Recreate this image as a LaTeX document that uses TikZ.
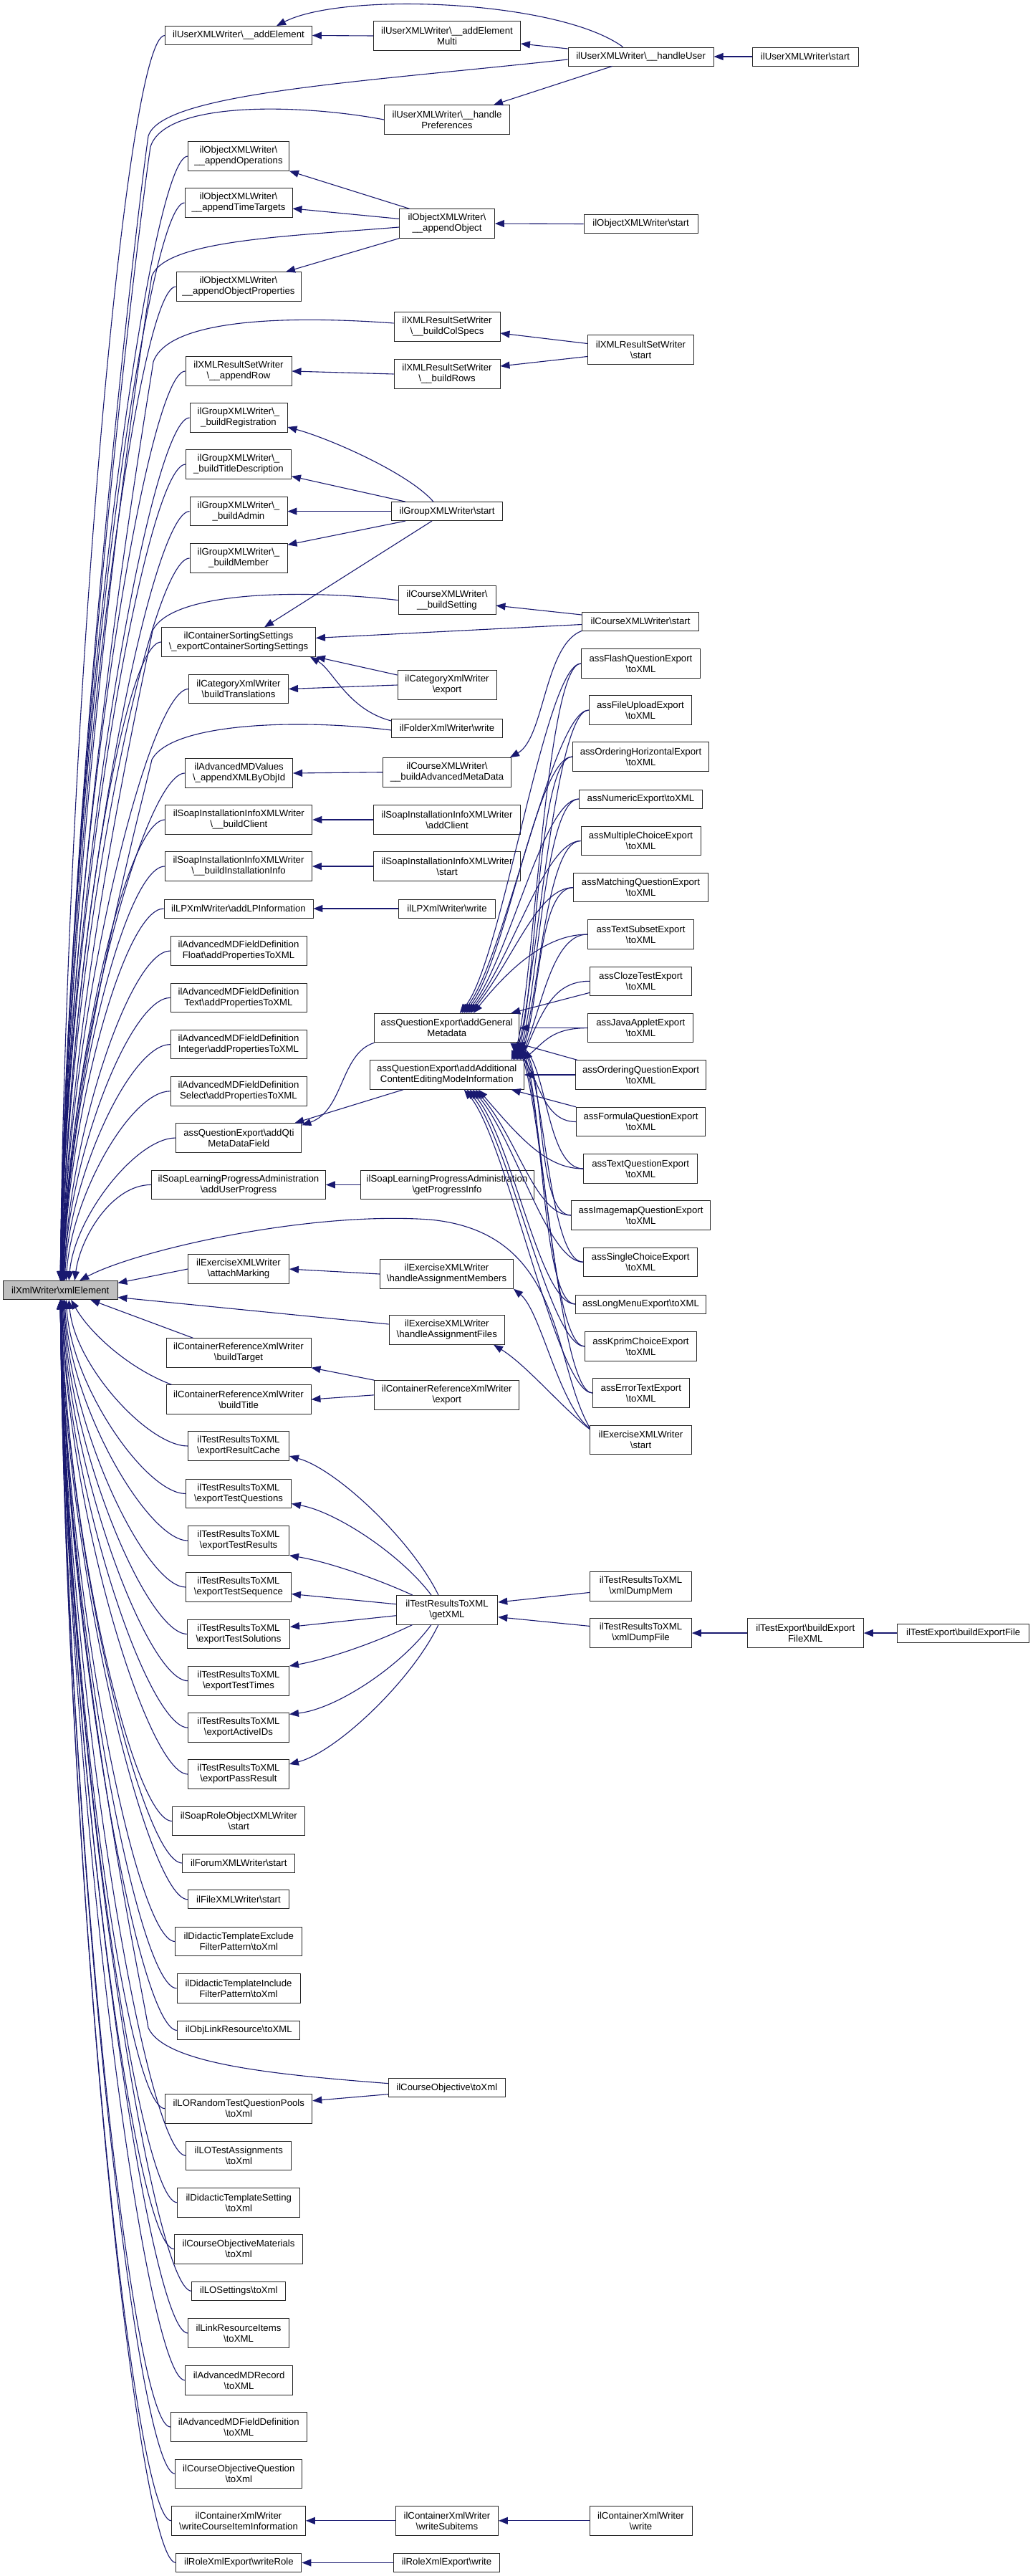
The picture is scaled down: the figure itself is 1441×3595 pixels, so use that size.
\documentclass[tikz,border=0pt]{standalone}
\usepackage{fontspec}
\setmainfont{Liberation Sans}
\usetikzlibrary{arrows.meta,calc}
\definecolor{navy}{HTML}{191970}
\definecolor{rootgrey}{HTML}{BFBFBF}
\newcommand\bs{\textbackslash}
\newcommand\N[5]{\node[#1,minimum width=#4pt] (#2) at (#3) {#5};}
\newcommand\upe[2]{\draw[ce] let \p1=(#1.west), \p2=([xshift=#2pt]xml.north west) in (\p1) .. controls (\x1-55pt,\y1) and (\x2+8pt,{0.45*(\y1)+0.55*(\y2)}) .. (\p2);}
\newcommand\dne[2]{\draw[ce] let \p1=(#1.west), \p2=([xshift=#2pt]xml.south west) in (\p1) .. controls (\x1-55pt,\y1) and (\x2+8pt,{0.45*(\y1)+0.55*(\y2)}) .. (\p2);}
\newcommand\qe[4]{\draw[ce] let \p1=(#1.west), \p2=(#2) in (\p1) .. controls (\x1-50pt,\y1) and (\x2+#3pt,{\y2-(#4pt)}) .. (\p2);}
\begin{document}
\begin{tikzpicture}[x=1pt,y=-1pt,
 nd/.style={draw=black!85,fill=white,line width=0.9pt,font=\fontsize{13.2}{15}\selectfont,align=center,inner sep=0pt,minimum height=26pt},
 nd2/.style={nd,minimum height=40.5pt},
 ce/.style={draw=navy,line width=1.1pt,-{Triangle[length=13pt,width=10pt,fill=navy]}}]
\path[use as bounding box,fill=white] (0,0) rectangle (1441,3595);
% root
\N{nd,fill=rootgrey}{xml}{84.3,1800.5}{159.3}{ilXmlWriter\bs xmlElement}
% column 2
\N{nd}{ae}{333,49.5}{205}{ilUserXMLWriter\bs\_\_addElement}
\N{nd2}{aop}{333,218}{141}{ilObjectXMLWriter\bs\\\_\_appendOperations}
\N{nd2}{att}{333,283}{150}{ilObjectXMLWriter\bs\\\_\_appendTimeTargets}
\N{nd2}{aprop}{333,400}{174}{ilObjectXMLWriter\bs\\\_\_appendObjectProperties}
\N{nd2}{arow}{333,518}{148}{ilXMLResultSetWriter\\\bs\_\_appendRow}
\N{nd2}{breg}{333,583}{136}{ilGroupXMLWriter\bs\_\\\_buildRegistration}
\N{nd2}{btd}{333,648}{147}{ilGroupXMLWriter\bs\_\\\_buildTitleDescription}
\N{nd2}{badm}{333,713.6}{136}{ilGroupXMLWriter\bs\_\\\_buildAdmin}
\N{nd2}{bmem}{333,779}{136}{ilGroupXMLWriter\bs\_\\\_buildMember}
\N{nd2}{cs}{333,896}{215}{ilContainerSortingSettings\\\bs\_exportContainerSortingSettings}
\N{nd2}{btr}{333,961.5}{139}{ilCategoryXmlWriter\\\bs buildTranslations}
\N{nd2}{axo}{333.6,1079}{150}{ilAdvancedMDValues\\\bs\_appendXMLByObjId}
\N{nd2}{bcl}{333.3,1144}{205}{ilSoapInstallationInfoXMLWriter\\\bs\_\_buildClient}
\N{nd2}{bii}{333,1209}{205}{ilSoapInstallationInfoXMLWriter\\\bs\_\_buildInstallationInfo}
\N{nd}{lpa}{333,1268}{208}{ilLPXmlWriter\bs addLPInformation}
\N{nd2}{fl}{333,1327}{190}{ilAdvancedMDFieldDefinition\\Float\bs addPropertiesToXML}
\N{nd2}{tx}{333,1392.4}{190}{ilAdvancedMDFieldDefinition\\Text\bs addPropertiesToXML}
\N{nd2}{mdi}{333,1457.6}{190}{ilAdvancedMDFieldDefinition\\Integer\bs addPropertiesToXML}
\N{nd2}{sel}{333,1522.8}{190}{ilAdvancedMDFieldDefinition\\Select\bs addPropertiesToXML}
\N{nd2}{qti}{333.4,1588}{175}{assQuestionExport\bs addQti\\MetaDataField}
\N{nd2}{aup}{333,1653.4}{243}{ilSoapLearningProgressAdministration\\\bs addUserProgress}
\N{nd2}{am}{333,1771}{141}{ilExerciseXMLWriter\\\bs attachMarking}
\N{nd2}{btg}{333,1888}{202}{ilContainerReferenceXmlWriter\\\bs buildTarget}
\N{nd2}{btl}{333,1953}{202}{ilContainerReferenceXmlWriter\\\bs buildTitle}
\N{nd2}{erc}{333,2018}{141}{ilTestResultsToXML\\\bs exportResultCache}
\N{nd2}{etq}{333,2084.5}{147}{ilTestResultsToXML\\\bs exportTestQuestions}
\N{nd2}{etr}{333,2150}{141}{ilTestResultsToXML\\\bs exportTestResults}
\N{nd2}{ets}{333,2215}{147}{ilTestResultsToXML\\\bs exportTestSequence}
\N{nd2}{etso}{333,2280.4}{143}{ilTestResultsToXML\\\bs exportTestSolutions}
\N{nd2}{ett}{333,2345.7}{141}{ilTestResultsToXML\\\bs exportTestTimes}
\N{nd2}{eai}{333,2411}{141}{ilTestResultsToXML\\\bs exportActiveIDs}
\N{nd2}{epr}{333,2476}{141}{ilTestResultsToXML\\\bs exportPassResult}
\N{nd2}{srs}{333.3,2541.5}{185}{ilSoapRoleObjectXMLWriter\\\bs start}
\N{nd}{fxs}{333.3,2600}{157}{ilForumXMLWriter\bs start}
\N{nd}{flx}{333,2650.8}{141}{ilFileXMLWriter\bs start}
\N{nd2}{dte}{333.3,2709.5}{177}{ilDidacticTemplateExclude\\FilterPattern\bs toXml}
\N{nd2}{dti}{333,2774.8}{172}{ilDidacticTemplateInclude\\FilterPattern\bs toXml}
\N{nd}{olr}{333.3,2833.5}{171}{ilObjLinkResource\bs toXML}
\N{nd2}{lrq}{333.3,2942.7}{205}{ilLORandomTestQuestionPools\\\bs toXml}
\N{nd2}{lta}{333.3,3008.3}{147}{ilLOTestAssignments\\\bs toXml}
\N{nd2}{dts}{333.3,3073.8}{171}{ilDidacticTemplateSetting\\\bs toXml}
\N{nd2}{com}{333,3138.7}{179}{ilCourseObjectiveMaterials\\\bs toXml}
\N{nd}{los}{333.3,3197.3}{131}{ilLOSettings\bs toXml}
\N{nd2}{lri}{333,3256}{141}{ilLinkResourceItems\\\bs toXML}
\N{nd2}{amr}{333.6,3321.8}{150}{ilAdvancedMDRecord\\\bs toXML}
\N{nd2}{amf}{333.3,3387}{190}{ilAdvancedMDFieldDefinition\\\bs toXML}
\N{nd2}{coq}{333.3,3452.3}{177}{ilCourseObjectiveQuestion\\\bs toXml}
\N{nd2}{wci}{333,3517.8}{187}{ilContainerXmlWriter\\\bs writeCourseItemInformation}
\N{nd}{wro}{333.4,3576.4}{175}{ilRoleXmlExport\bs writeRole}
% column 3
\N{nd2}{amu}{624,50}{205}{ilUserXMLWriter\bs\_\_addElement\\Multi}
\N{nd2}{hp}{624,167}{175}{ilUserXMLWriter\bs\_\_handle\\Preferences}
\N{nd2}{ao}{624,312}{133}{ilObjectXMLWriter\bs\\\_\_appendObject}
\N{nd2}{bcs}{624,456}{148}{ilXMLResultSetWriter\\\bs\_\_buildColSpecs}
\N{nd2}{brw}{624,522}{148}{ilXMLResultSetWriter\\\bs\_\_buildRows}
\N{nd}{gs}{624,713.6}{155}{ilGroupXMLWriter\bs start}
\N{nd2}{bs}{624,837.6}{136}{ilCourseXMLWriter\bs\\\_\_buildSetting}
\N{nd2}{cex}{624,956}{138}{ilCategoryXmlWriter\\\bs export}
\N{nd}{fw}{624,1016}{155}{ilFolderXmlWriter\bs write}
\N{nd2}{bam}{624,1077.7}{179}{ilCourseXMLWriter\bs\\\_\_buildAdvancedMetaData}
\N{nd2}{acl}{624,1144}{205}{ilSoapInstallationInfoXMLWriter\\\bs addClient}
\N{nd2}{sis}{624,1209}{205}{ilSoapInstallationInfoXMLWriter\\\bs start}
\N{nd}{lpw}{624,1268}{134.5}{ilLPXmlWriter\bs write}
\N{nd2}{gm}{623.8,1434.6}{202}{assQuestionExport\bs addGeneral\\Metadata}
\N{nd2}{acm}{623.8,1500}{215}{assQuestionExport\bs addAdditional\\ContentEditingModeInformation}
\N{nd2}{gpi}{624,1653.4}{242}{ilSoapLearningProgressAdministration\\\bs getProgressInfo}
\N{nd2}{ham}{623.5,1778}{186}{ilExerciseXMLWriter\\\bs handleAssignmentMembers}
\N{nd2}{haf}{623.8,1856}{161.5}{ilExerciseXMLWriter\\\bs handleAssignmentFiles}
\N{nd2}{cre}{623.8,1946.8}{202}{ilContainerReferenceXmlWriter\\\bs export}
\N{nd2}{gx}{624,2246.7}{141.6}{ilTestResultsToXML\\\bs getXML}
\N{nd}{co}{623.8,2913.6}{162.6}{ilCourseObjective\bs toXml}
\N{nd2}{wsi}{624,3517.8}{143}{ilContainerXmlWriter\\\bs writeSubitems}
\N{nd}{rxw}{623.5,3576.4}{148}{ilRoleXmlExport\bs write}
% column 4
\N{nd}{hu}{894.6,79}{203}{ilUserXMLWriter\bs\_\_handleUser}
\N{nd}{os}{894.6,312.5}{159}{ilObjectXMLWriter\bs start}
\N{nd2}{rs}{894.5,488}{148}{ilXMLResultSetWriter\\\bs start}
\N{nd}{cst}{894,867}{163}{ilCourseXMLWriter\bs start}
\N{nd2}{flash}{894.5,926}{166}{assFlashQuestionExport\\\bs toXML}
\N{nd2}{fup}{894,991}{143.5}{assFileUploadExport\\\bs toXML}
\N{nd2}{ohz}{894.5,1056}{190}{assOrderingHorizontalExport\\\bs toXML}
\N{nd}{num}{894.5,1115}{172}{assNumericExport\bs toXML}
\N{nd2}{mc}{894.5,1173.5}{167}{assMultipleChoiceExport\\\bs toXML}
\N{nd2}{mat}{894.5,1238.6}{187.5}{assMatchingQuestionExport\\\bs toXML}
\N{nd2}{tsub}{894.5,1304}{148}{assTextSubsetExport\\\bs toXML}
\N{nd2}{clz}{894.5,1369.3}{141.6}{assClozeTestExport\\\bs toXML}
\N{nd2}{jav}{894.4,1434.6}{147}{assJavaAppletExport\\\bs toXML}
\N{nd2}{ordq}{894.5,1500}{182.4}{assOrderingQuestionExport\\\bs toXML}
\N{nd2}{form}{894.5,1565.5}{180}{assFormulaQuestionExport\\\bs toXML}
\N{nd2}{txq}{894.2,1631}{159}{assTextQuestionExport\\\bs toXML}
\N{nd2}{img}{894.5,1696}{194}{assImagemapQuestionExport\\\bs toXML}
\N{nd2}{sc}{894.2,1761.3}{159}{assSingleChoiceExport\\\bs toXML}
\N{nd}{lm}{894.5,1820}{182}{assLongMenuExport\bs toXML}
\N{nd2}{kp}{894.5,1879}{155.6}{assKprimChoiceExport\\\bs toXML}
\N{nd2}{err}{894.8,1944}{134.6}{assErrorTextExport\\\bs toXML}
\N{nd2}{exs}{894.5,2009.6}{141.6}{ilExerciseXMLWriter\\\bs start}
\N{nd2}{xdm}{894.5,2214}{141.6}{ilTestResultsToXML\\\bs xmlDumpMem}
\N{nd2}{xdf}{894.5,2279}{141.6}{ilTestResultsToXML\\\bs xmlDumpFile}
\N{nd2}{cxw}{894.5,3517.8}{143}{ilContainerXmlWriter\\\bs write}
% columns 5, 6
\N{nd}{us}{1124,79}{148}{ilUserXMLWriter\bs start}
\N{nd2}{bxml}{1124.3,2279}{162}{ilTestExport\bs buildExport\\FileXML}
\N{nd}{bef}{1344.7,2279}{184}{ilTestExport\bs buildExportFile}
% ---------- edges into xmlElement (top) ----------
\upe{ae}{80}\upe{aop}{80}\upe{att}{80}\upe{aprop}{81}\upe{arow}{81}
\upe{breg}{81}\upe{btd}{81}\upe{badm}{82}\upe{bmem}{82}\upe{cs}{82}
\upe{btr}{83}\upe{axo}{83}\upe{bcl}{84}\upe{bii}{84}\upe{lpa}{84}
\upe{fl}{85}\upe{tx}{85}\upe{mdi}{86}\upe{sel}{88}\upe{qti}{92}\upe{aup}{100}
\draw[ce] ([yshift=-4pt]hu.west) .. controls (500,115) and (225,130) .. (207,190) .. controls (195,270) and (95,1100) .. ([xshift=80pt]xml.north west);
\draw[ce] (hp.west) .. controls (420,145) and (230,140) .. (210,205) .. controls (197,290) and (95,1100) .. ([xshift=80pt]xml.north west);
\draw[ce] ([yshift=-5pt]ao.west) .. controls (400,330) and (232,335) .. (212,385) .. controls (200,460) and (95,1150) .. ([xshift=81pt]xml.north west);
\draw[ce] ([yshift=5pt]bcs.west) .. controls (400,440) and (235,445) .. (214,505) .. controls (203,580) and (95,1200) .. ([xshift=81pt]xml.north west);
\draw[ce] (bs.west) .. controls (420,822) and (240,825) .. (213,880) .. controls (202,940) and (96,1400) .. ([xshift=82pt]xml.north west);
\draw[ce] ([yshift=-3pt]fw.west) .. controls (420,1003) and (240,1008) .. (212,1060) .. controls (201,1110) and (96,1500) .. ([xshift=83pt]xml.north west);
\draw[ce] ([yshift=17pt]exs.west) .. controls (770,1900) and (790,1720) .. (600,1702) .. controls (430,1690) and (190,1745) .. ([xshift=107pt]xml.north west);
\draw[ce] (am.west) -- ([yshift=10pt]xml.east);
\draw[ce] ([yshift=8pt]haf.west) -- ([yshift=-10pt]xml.east);
% ---------- edges into xmlElement (bottom) ----------
\draw[ce] ([xshift=38pt]btg.north west) -- ([xshift=122pt]xml.south west);
\draw[ce] ([xshift=8pt]btl.north west) .. controls (180,1910) and (125,1860) .. ([xshift=95pt]xml.south west);
\dne{erc}{92}\dne{etq}{88}\dne{etr}{86}\dne{ets}{85}\dne{etso}{84}\dne{ett}{83}
\dne{eai}{82}\dne{epr}{82}\dne{srs}{81}\dne{fxs}{81}\dne{flx}{80}\dne{dte}{80}
\dne{dti}{80}\dne{olr}{80}\dne{lrq}{80}\dne{lta}{80}\dne{dts}{80}\dne{com}{80}
\dne{los}{80}\dne{lri}{80}\dne{amr}{80}\dne{amf}{80}\dne{coq}{80}\dne{wci}{80}\dne{wro}{80}
\draw[ce] ([yshift=6pt]co.west) .. controls (380,2895) and (230,2880) .. (207,2830) .. controls (196,2760) and (95,2300) .. ([xshift=80pt]xml.south west);
% ---------- user writer ----------
\draw[ce] ([xshift=-25pt]hu.north) .. controls (780,0) and (480,-12) .. ([xshift=53pt]ae.north);
\draw[ce] (amu.west) -- (ae.east);
\draw[ce] ([yshift=11pt]hu.west) -- ([yshift=-11pt]amu.east);
\draw[ce] ([xshift=-40pt]hu.south) -- ([xshift=65pt]hp.north);
\draw[ce] (us.west) -- (hu.east);
% ---------- object writer ----------
\draw[ce] ([xshift=14.6pt]ao.north west) -- (aop.south east);
\draw[ce] ([yshift=6.6pt]ao.west) -- ([yshift=-8pt]att.east);
\draw[ce] (ao.south west) -- ([xshift=66pt]aprop.north);
\draw[ce] (os.west) -- (ao.east);
% ---------- result set writer ----------
\draw[ce] ([yshift=8.5pt]rs.west) -- ([yshift=-9pt]bcs.east);
\draw[ce] ([yshift=-9.5pt]rs.west) -- ([yshift=11pt]brw.east);
\draw[ce] (brw.west) -- (arow.east);
% ---------- group writer ----------
\draw[ce] ([xshift=-19pt]gs.north) .. controls (570,660) and (460,612) .. ([yshift=-13pt]breg.east);
\draw[ce] ([xshift=20pt]gs.north west) -- ([yshift=4pt]btd.south east);
\draw[ce] (gs.west) -- (badm.east);
\draw[ce] ([xshift=20pt]gs.south west) -- ([yshift=-2pt]bmem.north east);
\draw[ce] ([xshift=-21pt]gs.south) -- ([xshift=36pt]cs.north);
% ---------- course / category / folder ----------
\draw[ce] ([yshift=9pt]cst.west) -- ([yshift=-7.5pt]bs.east);
\draw[ce] ([yshift=-4.5pt]cst.west) -- ([yshift=5.6pt]cs.east);
\draw[ce] (cst.south west) .. controls (760,900) and (760,1030) .. ([xshift=-2pt]bam.north east);
\draw[ce] ([yshift=14pt]cex.west) -- (cs.south east);
\draw[ce] (cex.west) -- (btr.east);
\draw[ce] ([yshift=10pt]fw.west) .. controls (485,990) and (465,935) .. ([xshift=-8pt]cs.south east);
\draw[ce] (bam.west) -- (axo.east);
\draw[ce] (acl.west) -- (bcl.east);
\draw[ce] (sis.west) -- (bii.east);
\draw[ce] (lpw.west) -- (lpa.east);
% ---------- question exports ----------
\qe{flash}{[xshift=18pt]gm.north}{60}{-75}\qe{fup}{[xshift=21pt]gm.north}{60}{-75}
\qe{ohz}{[xshift=24pt]gm.north}{60}{-75}\qe{num}{[xshift=27pt]gm.north}{60}{-75}
\qe{mc}{[xshift=30pt]gm.north}{60}{-75}\qe{mat}{[xshift=33pt]gm.north}{60}{-75}
\qe{tsub}{[xshift=37pt]gm.north}{60}{-75}
\draw[ce] ([yshift=-16pt]clz.west) -- ([xshift=-12pt]gm.north east);
\qe{flash}{[xshift=-18pt]acm.north east}{30}{-70}\qe{fup}{[xshift=-16pt]acm.north east}{30}{-70}
\qe{ohz}{[xshift=-14pt]acm.north east}{30}{-70}\qe{num}{[xshift=-12pt]acm.north east}{30}{-70}
\qe{mc}{[xshift=-10pt]acm.north east}{30}{-70}\qe{mat}{[xshift=-8pt]acm.north east}{30}{-70}
\qe{tsub}{[xshift=-6pt]acm.north east}{30}{-70}\qe{clz}{[xshift=-4pt]acm.north east}{30}{-70}
\draw[ce] (jav.west) -- (gm.east);
\qe{jav}{[xshift=-2pt]acm.north east}{30}{-25}
\draw[ce] ([xshift=3pt]ordq.north west) -- ([xshift=-5pt]gm.south east);
\draw[ce] (ordq.west) -- (acm.east);
\qe{txq}{[xshift=-1pt]gm.south east}{40}{40}
\qe{img}{[xshift=-3pt]gm.south east}{40}{40}\qe{sc}{[xshift=-5pt]gm.south east}{40}{40}
\qe{lm}{[xshift=-7pt]gm.south east}{40}{40}\qe{kp}{[xshift=-9pt]gm.south east}{40}{40}
\qe{err}{[xshift=-11pt]gm.south east}{40}{40}\qe{form}{[xshift=-13pt]gm.south east}{40}{40}
\draw[ce] (form.north west) -- ([xshift=-18pt]acm.south east);
\qe{txq}{[xshift=44pt]acm.south}{60}{70}\qe{img}{[xshift=40pt]acm.south}{60}{70}
\qe{sc}{[xshift=36pt]acm.south}{60}{70}\qe{lm}{[xshift=32pt]acm.south}{60}{70}
\qe{kp}{[xshift=28pt]acm.south}{60}{70}\qe{err}{[xshift=24pt]acm.south}{60}{70}
\draw[ce] (gm.south west) .. controls (475,1470) and (480,1550) .. ([yshift=-3pt]qti.north east);
\draw[ce] ([xshift=47pt]acm.south west) -- ([xshift=-10pt]qti.north east);
\draw[ce] (gpi.west) -- (aup.east);
% ---------- exercise ----------
\draw[ce] (ham.west) -- (am.east);
\draw[ce] ([yshift=16pt]exs.west) .. controls (780,1960) and (755,1830) .. (ham.south east);
\draw[ce] ([yshift=15pt]exs.west) .. controls (785,1965) and (735,1905) .. ([xshift=-16pt]haf.south east);
% ---------- container reference ----------
\draw[ce] (cre.north west) -- (btg.south east);
\draw[ce] (cre.west) -- (btl.east);
% ---------- test results ----------
\draw[ce] ([xshift=-12pt]gx.north) .. controls (575,2150) and (470,2050) .. ([yshift=-14pt]erc.east);
\draw[ce] ([xshift=-22pt]gx.north) .. controls (560,2170) and (470,2110) .. ([yshift=-14pt]etq.east);
\draw[ce] ([xshift=23pt]gx.north west) .. controls (530,2205) and (460,2180) .. (etr.south east);
\draw[ce] ([yshift=8pt]gx.west) -- ([yshift=-9.5pt]ets.east);
\draw[ce] ([yshift=-8pt]gx.west) -- ([yshift=10pt]etso.east);
\draw[ce] ([xshift=23pt]gx.south west) .. controls (530,2290) and (460,2315) .. (ett.north east);
\draw[ce] ([xshift=-22pt]gx.south) .. controls (560,2325) and (470,2385) .. ([yshift=-2pt]eai.north east);
\draw[ce] ([xshift=-12pt]gx.south) .. controls (575,2345) and (470,2445) .. ([yshift=14pt]epr.east);
\draw[ce] ([yshift=-8.4pt]xdm.west) -- ([yshift=10.7pt]gx.east);
\draw[ce] ([yshift=9.6pt]xdf.west) -- ([yshift=-10pt]gx.east);
\draw[ce] (bxml.west) -- (xdf.east);
\draw[ce] (bef.west) -- (bxml.east);
% ---------- bottom ----------
\draw[ce] ([yshift=-9pt]co.west) -- ([yshift=11pt]lrq.east);
\draw[ce] (wsi.west) -- (wci.east);
\draw[ce] (cxw.west) -- (wsi.east);
\draw[ce] (rxw.west) -- (wro.east);
\end{tikzpicture}
\end{document}
